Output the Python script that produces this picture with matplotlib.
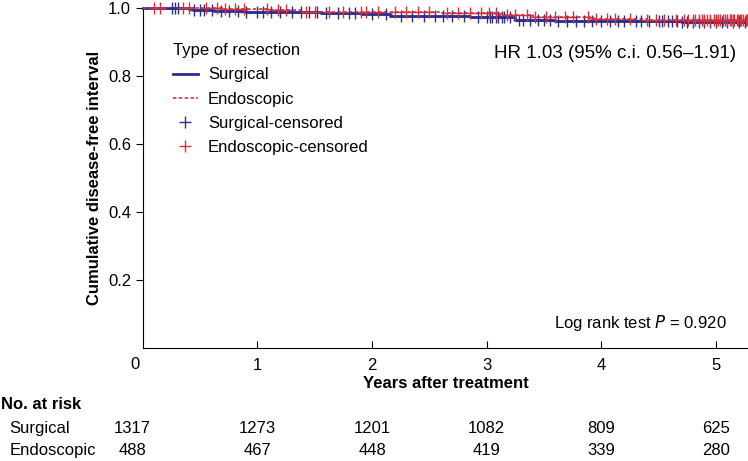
import matplotlib.pyplot as plt

plt.rcParams['font.family'] = ['Liberation Sans', 'DejaVu Sans']

# Kaplan-Meier steps
surg_t = [0, 0.44, 0.62, 0.9, 1.2, 1.55, 1.9, 2.16, 2.5, 2.85, 3.25, 3.6, 4.1, 4.7, 5.28]
surg_s = [1.0, 0.994, 0.991, 0.989, 0.987, 0.985, 0.981, 0.977, 0.975, 0.973, 0.964, 0.962, 0.961, 0.959, 0.959]
endo_t = [0, 0.7, 1.1, 1.4, 2.0, 2.6, 3.1, 3.4, 3.9, 4.4, 5.28]
endo_s = [1.0, 0.997, 0.993, 0.989, 0.988, 0.985, 0.979, 0.972, 0.968, 0.964, 0.964]

# censored observations (years)
surg_cens = [0.25, 0.28, 0.31, 0.45, 0.5, 0.53, 0.6, 0.68, 0.75, 0.83, 0.9, 1.0, 1.05, 1.12,
             1.2, 1.3, 1.38, 1.45, 1.52, 1.6, 1.7, 1.8, 1.85, 2.0, 2.12, 2.25, 2.35, 2.45, 2.55,
             2.62, 2.7, 2.8, 2.92, 3.0, 3.03, 3.05, 3.08, 3.1, 3.13, 3.15, 3.2, 3.28, 3.32, 3.38,
             3.45, 3.5, 3.55, 3.62, 3.7, 3.78, 3.85, 3.92, 4.0, 4.08, 4.15, 4.2, 4.3, 4.35, 4.42,
             4.5, 4.53, 4.58, 4.62, 4.66, 4.7, 4.75, 4.8, 4.85, 4.9, 4.95, 5.0, 5.05, 5.1, 5.15,
             5.2, 5.25]
endo_cens = [0.1, 0.15, 0.35, 0.4, 0.55, 0.65, 0.72, 0.8, 0.88, 1.08, 1.18, 1.25, 1.42, 1.5,
             1.62, 1.75, 1.9, 1.95, 2.05, 2.2, 2.3, 2.4, 2.5, 2.65, 2.75, 2.85, 2.95, 3.02, 3.08,
             3.18, 3.25, 3.35, 3.42, 3.52, 3.6, 3.68, 3.75, 3.88, 3.95, 4.05, 4.12, 4.25, 4.4,
             4.48, 4.55, 4.65, 4.72, 4.76, 4.8, 4.82, 4.85, 4.88, 4.9, 4.92, 4.95, 4.98, 5.0, 5.02,
             5.04, 5.06, 5.08, 5.1, 5.12, 5.13, 5.15, 5.16, 5.18, 5.19, 5.21, 5.22, 5.24, 5.26, 5.27]

risk_years = [0, 1, 2, 3, 4, 5]
risk_surg = [1317, 1273, 1201, 1082, 809, 625]
risk_endo = [488, 467, 448, 419, 339, 280]

blue = '#2b2e8c'
red = '#d7303b'


def surv_at(times, surv, t):
    s = surv[0]
    for ti, si in zip(times, surv):
        if ti <= t:
            s = si
    return s


fig = plt.figure(figsize=(7.48, 4.61), dpi=100)
ax = fig.add_axes([0.191, 0.245, 0.809, 0.738])

ax.step(surg_t, surg_s, where='post', color=blue, lw=2.0, label='Surgical', clip_on=False, zorder=3)
ax.step(endo_t, endo_s, where='post', color=red, lw=1.2, ls=(0, (2, 1.5)), label='Endoscopic',
        clip_on=False, zorder=3)
ax.plot(surg_cens, [surv_at(surg_t, surg_s, t) for t in surg_cens], ls='none', marker='+',
        ms=9, mew=1.0, color=blue, label='Surgical-censored', clip_on=False, zorder=4)
ax.plot(endo_cens, [surv_at(endo_t, endo_s, t) for t in endo_cens], ls='none', marker='+',
        ms=9, mew=1.0, color=red, label='Endoscopic-censored', clip_on=False, zorder=4)

ax.set_xlim(0, 5.28)
ax.set_ylim(0, 1.0)
ax.spines['top'].set_visible(False)
ax.spines['right'].set_visible(False)
ax.set_xticks([1, 2, 3, 4, 5])
ax.set_yticks([0.2, 0.4, 0.6, 0.8, 1.0])
ax.set_yticklabels(['0.2', '0.4', '0.6', '0.8', '1.0'])
ax.tick_params(axis='x', direction='in', length=5, labelsize=12, pad=7)
ax.tick_params(axis='y', direction='out', length=5, labelsize=12)
ax.text(-0.07, -0.025, '0', transform=ax.get_xaxis_transform(), ha='center', va='top', fontsize=12)

ax.set_xlabel('Years after treatment', fontsize=12, fontweight='bold', labelpad=2)
ax.set_ylabel('Cumulative disease-free interval', fontsize=12, fontweight='bold')
ax.yaxis.set_label_coords(-0.068, 0.5)

leg = ax.legend(loc='upper left', bbox_to_anchor=(0.025, 0.94), frameon=False, fontsize=12,
                title='Type of resection', title_fontsize=12, handlelength=1.5,
                handletextpad=0.6, labelspacing=0.55, alignment='left')

ax.text(0.98, 0.865, 'HR 1.03 (95% c.i. 0.56\u20131.91)', transform=ax.transAxes,
        ha='right', va='center', fontsize=13.5)
ax.text(0.965, 0.075, 'Log rank test $\\it{P}$ = 0.920', transform=ax.transAxes,
        ha='right', va='center', fontsize=12)

# numbers at risk
fig.text(0.002, 1 - 404 / 461, 'No. at risk', fontsize=12, fontweight='bold', va='center')
fig.text(0.013, 1 - 428 / 461, 'Surgical', fontsize=12, va='center')
fig.text(0.013, 1 - 450 / 461, 'Endoscopic', fontsize=12, va='center')
tr = ax.get_xaxis_transform()
for yr, ns, ne in zip(risk_years, risk_surg, risk_endo):
    x = yr if yr > 0 else -0.09
    ax.text(x, (1 - 428 / 461 - 0.245) / 0.738, str(ns), transform=tr, ha='center', va='center',
            fontsize=12, clip_on=False)
    ax.text(x, (1 - 450 / 461 - 0.245) / 0.738, str(ne), transform=tr, ha='center', va='center',
            fontsize=12, clip_on=False)

fig.savefig('out.png', dpi=100)
